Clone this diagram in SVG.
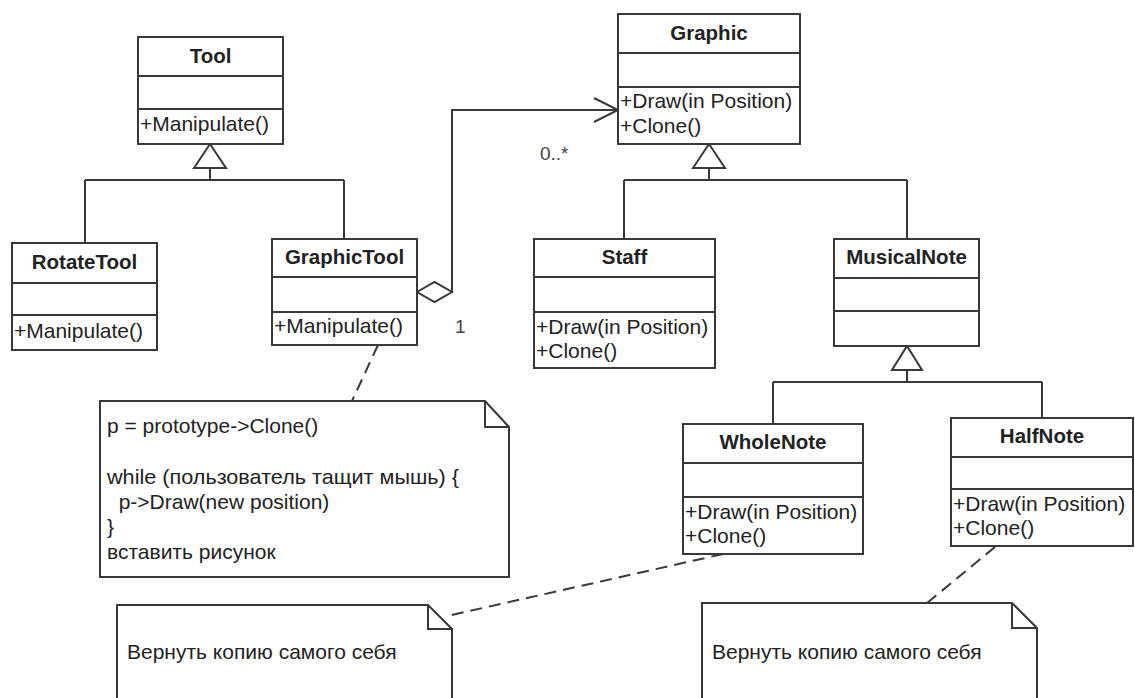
<svg xmlns="http://www.w3.org/2000/svg" width="1135" height="698" viewBox="0 0 1135 698">
<style>
.box{fill:#ffffff;stroke:#383838;stroke-width:2}
.ln{fill:none;stroke:#383838;stroke-width:2}
.dash{fill:none;stroke:#383838;stroke-width:2;stroke-dasharray:12 7}
.name{font-family:"Liberation Sans",Arial,sans-serif;font-weight:bold;font-size:20.5px;fill:#222;text-anchor:middle}
.t{font-family:"Liberation Sans",Arial,sans-serif;font-size:21px;fill:#222}
.m{font-family:"Liberation Sans",Arial,sans-serif;font-size:19px;fill:#444}
.tri{fill:#ffffff;stroke:#383838;stroke-width:2}
</style>
<rect width="1135" height="698" fill="#ffffff"/>
<g id="connectors">
  <path class="ln" d="M210 168 V180 M85 180 H344 M85 180 V243 M344 180 V239"/>
  <polygon class="tri" points="210,144 226,168 194,168"/>
  <path class="ln" d="M709 168 V180 M624 180 H907 M624 180 V239 M907 180 V239"/>
  <polygon class="tri" points="709,144 725,168 693,168"/>
  <path class="ln" d="M907 370 V382 M773 382 H1042 M773 382 V424 M1042 382 V418"/>
  <polygon class="tri" points="907,346 922,370 892,370"/>
  <path class="ln" d="M452 292 V110 H618"/>
  <path class="ln" d="M594 98 L618 110 L594 122"/>
  <polygon class="tri" points="417,292 434.5,282 452,292 434.5,302"/>
  <text class="m" x="540" y="160">0..*</text>
  <text class="m" x="455" y="333">1</text>
  <path class="dash" d="M378 345 L352 401"/>
  <path class="dash" d="M723 554 L447 616"/>
  <path class="dash" d="M995 547 L927 603"/>
</g>
<g id="Tool">
  <rect class="box" x="138" y="37" width="145" height="107"/>
  <path class="ln" d="M138 76 H283 M138 109 H283"/>
  <text class="name" x="210.5" y="63">Tool</text>
  <text class="t" x="140" y="131">+Manipulate()</text>
</g>
<g id="RotateTool">
  <rect class="box" x="12" y="243" width="145" height="107"/>
  <path class="ln" d="M12 283 H157 M12 315 H157"/>
  <text class="name" x="84.5" y="269">RotateTool</text>
  <text class="t" x="14" y="338">+Manipulate()</text>
</g>
<g id="GraphicTool">
  <rect class="box" x="272" y="239" width="145" height="106"/>
  <path class="ln" d="M272 277 H417 M272 312 H417"/>
  <text class="name" x="344.5" y="264">GraphicTool</text>
  <text class="t" x="274" y="333">+Manipulate()</text>
</g>
<g id="Graphic">
  <rect class="box" x="618" y="14" width="182" height="130"/>
  <path class="ln" d="M618 53 H800 M618 87 H800"/>
  <text class="name" x="709" y="40">Graphic</text>
  <text class="t" x="620" y="108">+Draw(in Position)</text>
  <text class="t" x="620" y="133">+Clone()</text>
</g>
<g id="Staff">
  <rect class="box" x="534" y="239" width="181" height="129"/>
  <path class="ln" d="M534 277 H715 M534 312 H715"/>
  <text class="name" x="624.5" y="264">Staff</text>
  <text class="t" x="536" y="334">+Draw(in Position)</text>
  <text class="t" x="536" y="358">+Clone()</text>
</g>
<g id="MusicalNote">
  <rect class="box" x="834" y="239" width="145" height="107"/>
  <path class="ln" d="M834 278 H979 M834 311 H979"/>
  <text class="name" x="906.5" y="264">MusicalNote</text>
</g>
<g id="WholeNote">
  <rect class="box" x="683" y="424" width="180" height="130"/>
  <path class="ln" d="M683 463 H863 M683 497 H863"/>
  <text class="name" x="773" y="449">WholeNote</text>
  <text class="t" x="685" y="519">+Draw(in Position)</text>
  <text class="t" x="685" y="543">+Clone()</text>
</g>
<g id="HalfNote">
  <rect class="box" x="951" y="418" width="182" height="128"/>
  <path class="ln" d="M951 457 H1133 M951 489 H1133"/>
  <text class="name" x="1042" y="443">HalfNote</text>
  <text class="t" x="953" y="511">+Draw(in Position)</text>
  <text class="t" x="953" y="535">+Clone()</text>
</g>
<g id="Note1">
  <path class="box" d="M100 401 H485 L509 427 V577 H100 Z"/>
  <path class="ln" d="M485 401 V427 H509"/>
  <text class="t" x="107" y="433">p = prototype-&gt;Clone()</text>
  <text class="t" x="107" y="484" textLength="352" lengthAdjust="spacingAndGlyphs">while (пользователь тащит мышь) {</text>
  <text class="t" x="107" y="509" xml:space="preserve">  p-&gt;Draw(new position)</text>
  <text class="t" x="107" y="534">}</text>
  <text class="t" x="107" y="559">вставить рисунок</text>
</g>
<g id="Note2">
  <path class="box" d="M117 710 V605 H428 L452 629 V710"/>
  <path class="ln" d="M428 605 V629 H452"/>
  <text class="t" x="127" y="659">Вернуть копию самого себя</text>
</g>
<g id="Note3">
  <path class="box" d="M702 710 V603 H1012 L1037 628 V710"/>
  <path class="ln" d="M1012 603 V628 H1037"/>
  <text class="t" x="712" y="659">Вернуть копию самого себя</text>
</g>
</svg>
